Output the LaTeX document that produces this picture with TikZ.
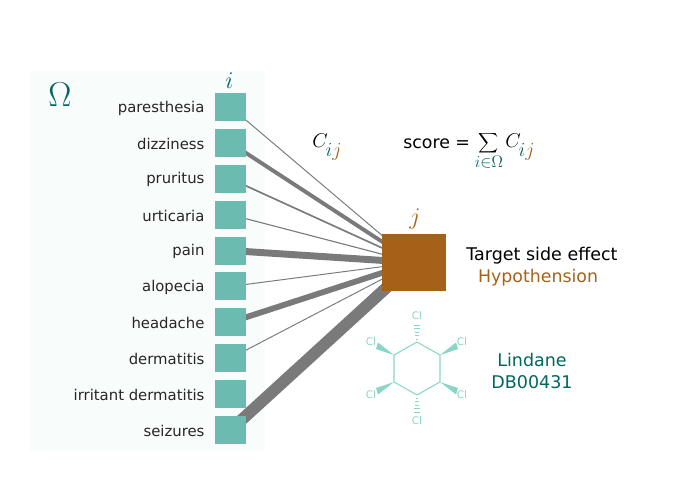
\documentclass[tikz,border=0pt]{standalone}
\usepackage{fontspec}
\setmainfont{DejaVu Sans}
\usetikzlibrary{positioning, backgrounds}
\definecolor{panelgreen}{HTML}{F8FCFB}
\definecolor{itemteal}{HTML}{6BBBB1}
\definecolor{darkteal}{HTML}{01665E}
\definecolor{sidebrown}{HTML}{A66119}
\definecolor{molteal}{HTML}{8AD5C5}
\definecolor{linkgrey}{HTML}{7A7A7A}
\newcommand{\cijterm}{C\kern-1.5pt\raisebox{-6.5pt}{\fontsize{15}{18}\selectfont$\textcolor{darkteal}{i}\textcolor{sidebrown}{j}$}}

\begin{document}
\begin{tikzpicture}[x=0.72pt, y=-0.72pt, node distance=0cm]
    \tikzstyle{item} = [rectangle, minimum width=22.3pt, minimum height=20.2pt, inner sep=0pt, outer sep=0pt, fill=itemteal]
    \tikzstyle{itemlabel} = [left=7.6pt of #1, yshift=-0.7pt, text=black!85, font=\fontsize{10.7}{13}\selectfont, inner sep=0pt, outer sep=0pt]
    \tikzstyle{link} = [draw=linkgrey]
    \tikzstyle{cl} = [text=molteal, font=\fontsize{7.5}{9}\selectfont, inner sep=0pt]
    \tikzstyle{bond} = [draw=molteal, line width=0.75pt]
    \tikzstyle{wedge} = [fill=molteal]
    \tikzstyle{hash} = [draw=molteal, line width=0.6pt]
    \useasboundingbox (0,0) rectangle (695,502);

    \node (sq1) [item] at (230.5,107) {};
    \node (sq2) [item, below=5.64pt of sq1] {};
    \node (sq3) [item, below=5.64pt of sq2] {};
    \node (sq4) [item, below=5.64pt of sq3] {};
    \node (sq5) [item, below=5.64pt of sq4] {};
    \node (sq6) [item, below=5.64pt of sq5] {};
    \node (sq7) [item, below=5.64pt of sq6] {};
    \node (sq8) [item, below=5.64pt of sq7] {};
    \node (sq9) [item, below=5.64pt of sq8] {};
    \node (sq10) [item, below=5.64pt of sq9] {};

    \node (lab1) [itemlabel=sq1] {paresthesia};
    \node (lab2) [itemlabel=sq2] {dizziness};
    \node (lab3) [itemlabel=sq3] {pruritus};
    \node (lab4) [itemlabel=sq4] {urticaria};
    \node (lab5) [itemlabel=sq5] {pain};
    \node (lab6) [itemlabel=sq6] {alopecia};
    \node (lab7) [itemlabel=sq7] {headache};
    \node (lab8) [itemlabel=sq8] {dermatitis};
    \node (lab9) [itemlabel=sq9] {irritant dermatitis};
    \node (lab10) [itemlabel=sq10] {seizures};

    \node (labelI) [text=darkteal, inner sep=0pt, font=\fontsize{16}{19}\selectfont] at (229.5,81) {$i$};
    \node (omega) [text=darkteal, inner sep=0pt, font=\fontsize{24}{28}\selectfont] at (60,95) {$\Omega$};

    \node (hub) [rectangle, minimum width=46pt, minimum height=41pt, inner sep=0pt, outer sep=0pt, fill=sidebrown] at (414,262.5) {};
    \node (labelJ) [text=sidebrown, inner sep=0pt, font=\fontsize{16}{19}\selectfont] at (415,219) {$j$};

    \begin{scope}[on background layer]
        \fill[panelgreen] (30,71) rectangle (265,451);
        \draw [link, line width=0.7pt] (sq1.center) -- (hub.center);
        \draw [link, line width=2.8pt] (sq2.center) -- (hub.center);
        \draw [link, line width=1.2pt] (sq3.center) -- (hub.center);
        \draw [link, line width=0.8pt] (sq4.center) -- (hub.center);
        \draw [link, line width=5pt] (sq5.center) -- (hub.center);
        \draw [link, line width=0.7pt] (sq6.center) -- (hub.center);
        \draw [link, line width=4.2pt] (sq7.center) -- (hub.center);
        \draw [link, line width=0.7pt] (sq8.center) -- (hub.center);
        \draw [link, line width=8.5pt] (sq10.center) -- (hub.center);
    \end{scope}

    \node (cij) [inner sep=0pt, anchor=base west, font=\fontsize{14}{17}\selectfont] at (312,147) {$\cijterm$};
    \node (score) [inner sep=0pt, font=\fontsize{12.5}{15}\selectfont, anchor=west] at (403,144) {score =};
    \node (sumf) [inner sep=0pt, anchor=base west, font=\fontsize{14}{17}\selectfont] at (505,147) {$\cijterm$};
    \node (sumsign) [inner sep=0pt, font=\fontsize{11.5}{14}\selectfont] at (489,143) {$\displaystyle\sum$};
    \node (sumsub) [inner sep=0pt, text=darkteal, font=\fontsize{12}{14}\selectfont] at (489,162) {${i}{\in}{\Omega}$};

    \node (target) [inner sep=0pt, font=\fontsize{12.6}{15}\selectfont] at (542,256) {Target side effect};
    \node (hypo) [inner sep=0pt, text=sidebrown, font=\fontsize{12.5}{15}\selectfont] at (538,278) {Hypothension};
    \node (drug) [inner sep=0pt, text=darkteal, font=\fontsize{12.6}{15}\selectfont] at (532,360) {Lindane};
    \node (dbid) [inner sep=0pt, text=darkteal, font=\fontsize{12.6}{15}\selectfont] at (532,382) {DB00431};

    % molecule
    \coordinate (r1) at (417,342);
    \coordinate (r2) at (440,355);
    \coordinate (r3) at (440,382);
    \coordinate (r4) at (417,395);
    \coordinate (r5) at (394,382);
    \coordinate (r6) at (394,355);
    \draw [bond] (r1) -- (r2) -- (r3) -- (r4) -- (r5) -- (r6) -- cycle;
    \node (cl1) [cl] at (417,316) {Cl};
    \node (cl2) [cl] at (462,342) {Cl};
    \node (cl3) [cl] at (462,395) {Cl};
    \node (cl4) [cl] at (417,421) {Cl};
    \node (cl5) [cl] at (371,395) {Cl};
    \node (cl6) [cl] at (371,342) {Cl};
    \fill [wedge] (r2) -- (456,342.5) -- (458,349) -- cycle;
    \fill [wedge] (r3) -- (456,394.5) -- (458,388) -- cycle;
    \fill [wedge] (r5) -- (378,394.5) -- (376,388) -- cycle;
    \fill [wedge] (r6) -- (378,342.5) -- (376,349) -- cycle;
    \foreach \yy/\ww in {339/1.2,335.5/1.7,332/2.2,328.5/2.7,325/3.2}
        \draw [hash] (417-\ww,\yy) -- (417+\ww,\yy);
    \foreach \yy/\ww in {398/1.2,401.5/1.7,405/2.2,408.5/2.7,412/3.2}
        \draw [hash] (417-\ww,\yy) -- (417+\ww,\yy);
\end{tikzpicture}
\end{document}
